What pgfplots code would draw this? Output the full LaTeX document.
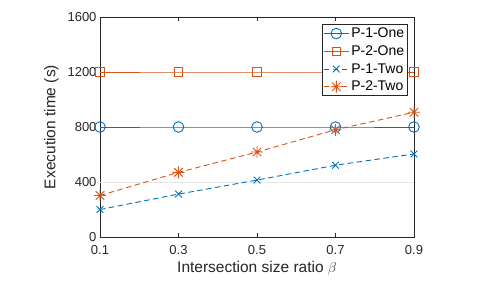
\documentclass[border=0pt]{standalone}
\usepackage{pgfplots}
\pgfplotsset{compat=1.18}
\usepackage{fontspec}
\setmainfont{Liberation Sans}
\definecolor{mblue}{rgb}{0,0.447,0.741}
\definecolor{morange}{rgb}{0.85,0.325,0.098}
\definecolor{mgray}{rgb}{0.15,0.15,0.15}
\pgfdeclareplotmark{mstar}{%
  \pgfpathmoveto{\pgfqpoint{-\pgfplotmarksize}{0pt}}\pgfpathlineto{\pgfqpoint{\pgfplotmarksize}{0pt}}%
  \pgfpathmoveto{\pgfqpoint{0pt}{-\pgfplotmarksize}}\pgfpathlineto{\pgfqpoint{0pt}{\pgfplotmarksize}}%
  \pgfpathmoveto{\pgfqpoint{-0.707\pgfplotmarksize}{-0.707\pgfplotmarksize}}\pgfpathlineto{\pgfqpoint{0.707\pgfplotmarksize}{0.707\pgfplotmarksize}}%
  \pgfpathmoveto{\pgfqpoint{-0.707\pgfplotmarksize}{0.707\pgfplotmarksize}}\pgfpathlineto{\pgfqpoint{0.707\pgfplotmarksize}{-0.707\pgfplotmarksize}}%
  \pgfusepathqstroke}
\begin{document}
\begin{tikzpicture}[x=1pt,y=1pt]
\path[use as bounding box] (0,0) rectangle (501,282);
\begin{axis}[
  at={(100pt,45pt)}, anchor=south west,
  scale only axis, width=314pt, height=220pt,
  xmin=0.1, xmax=0.9, ymin=0, ymax=1600,
  xtick={0.1,0.3,0.5,0.7,0.9},
  ytick={0,400,800,1200,1600},
  xticklabels={0.1,0.3,0.5,0.7,0.9},
  yticklabels={0,400,800,1200,1600},
  extra y ticks={400}, extra y tick labels={},
  extra y tick style={grid=major, major grid style={gray!20, line width=1pt}, major tick length=0pt},
  tick align=inside, major tick length=4pt,
  axis line style={mgray, line width=0.7pt},
  tick style={mgray, line width=0.7pt},
  ticklabel style={font=\fontsize{13}{15}\selectfont, text=mgray},
  xticklabel style={yshift=-5pt},
  xlabel={Intersection size ratio $\beta$},
  ylabel={Execution time (s)},
  label style={font=\fontsize{15.5}{17}\selectfont, text=mgray},
  xlabel style={yshift=0pt},
  ylabel style={yshift=2pt},
  legend style={at={(0.981,0.968)}, anchor=north east, font=\fontsize{14}{16}\selectfont, draw=mgray, line width=0.7pt, inner sep=1.5pt, row sep=2.5pt, legend cell align=left,
    /tikz/every even column/.append style={column sep=1pt}},
  legend image code/.code={\draw[#1, mark repeat=2, mark phase=2] plot coordinates {(0pt,0pt)(12.5pt,0pt)(25pt,0pt)};},
]
\addplot[mblue, line width=0.9pt, mark=o, mark size=5.3pt, mark options={solid}] coordinates {(0.1,800) (0.3,800) (0.5,800) (0.7,800) (0.9,800)};
\addlegendentry{P-1-One}
\addplot[morange, line width=0.9pt, mark=square, mark size=4.2pt, mark options={solid}] coordinates {(0.1,1200) (0.3,1200) (0.5,1200) (0.7,1200) (0.9,1200)};
\addlegendentry{P-2-One}
\addplot[mblue, line width=0.9pt, dash pattern=on 5.5pt off 3.5pt, mark=x, mark size=4.8pt, mark options={solid}] coordinates {(0.1,200) (0.3,312) (0.5,414) (0.7,522) (0.9,604)};
\addlegendentry{P-1-Two}
\addplot[morange, line width=0.9pt, dash pattern=on 5.5pt off 3.5pt, mark=mstar, mark size=6pt, mark options={solid}] coordinates {(0.1,302) (0.3,470) (0.5,618) (0.7,780) (0.9,907)};
\addlegendentry{P-2-Two}
\end{axis}
\end{tikzpicture}
\end{document}
